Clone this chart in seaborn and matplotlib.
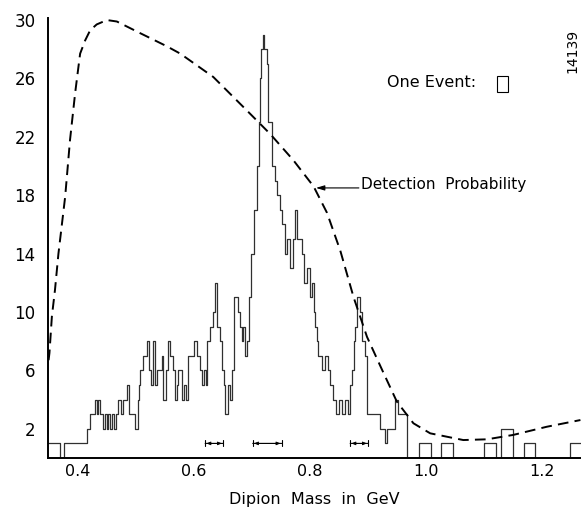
import numpy as np
import pandas as pd
import matplotlib
matplotlib.use("Agg")
import matplotlib.pyplot as plt
from matplotlib.patches import Rectangle
import seaborn as sns

# ideogram outline: step edges in GeV and number of stacked events
edges = [0.348, 0.368, 0.376, 0.416, 0.421, 0.429, 0.432, 0.435, 0.438, 0.443,
         0.446, 0.449, 0.452, 0.455, 0.458, 0.462, 0.466, 0.4695, 0.474, 0.477,
         0.4845, 0.4875, 0.4985, 0.5025, 0.505, 0.507, 0.5126, 0.5184, 0.5224, 0.526,
         0.529, 0.532, 0.536, 0.544, 0.547, 0.551, 0.555, 0.559, 0.563, 0.567,
         0.570, 0.573, 0.5787, 0.582, 0.586, 0.590, 0.599, 0.605, 0.610, 0.614,
         0.617, 0.620, 0.622, 0.6265, 0.633, 0.636, 0.640, 0.645, 0.648, 0.651,
         0.6535, 0.659, 0.662, 0.665, 0.668, 0.676, 0.679, 0.682, 0.685, 0.688,
         0.691, 0.694, 0.698, 0.704, 0.708, 0.711, 0.714, 0.716, 0.7195, 0.7205,
         0.725, 0.728, 0.734, 0.740, 0.743, 0.748, 0.751, 0.756, 0.760, 0.766,
         0.771, 0.774, 0.777, 0.786, 0.790, 0.794, 0.799, 0.803, 0.806, 0.809,
         0.812, 0.814, 0.820, 0.826, 0.830, 0.834, 0.840, 0.845, 0.850, 0.855,
         0.860, 0.866, 0.869, 0.872, 0.875, 0.878, 0.880, 0.886, 0.889, 0.895,
         0.898, 0.921, 0.929, 0.933, 0.947, 0.952, 0.967, 0.987, 1.008, 1.025,
         1.046, 1.099, 1.120, 1.129, 1.149, 1.168, 1.188, 1.248, 1.267]
counts = [1, 0, 1, 2, 3, 4, 3, 4, 3, 2,
          3, 2, 3, 2, 3, 2, 3, 4, 3, 4,
          5, 3, 2, 4, 5, 6, 7, 8, 6, 5,
          8, 5, 6, 7, 4, 6, 8, 7, 6, 4,
          5, 6, 4, 5, 4, 7, 8, 7, 6, 5,
          6, 5, 8, 9, 10, 12, 9, 8, 6, 5,
          3, 5, 4, 6, 11, 10, 9, 8, 9, 7,
          8, 11, 14, 17, 20, 23, 26, 28, 29, 28,
          27, 23, 20, 19, 18, 17, 16, 14, 15, 13,
          15, 17, 15, 14, 12, 13, 11, 12, 10, 9,
          8, 7, 6, 7, 6, 5, 4, 3, 4, 3,
          4, 3, 5, 6, 8, 9, 11, 10, 8, 7,
          3, 2, 1, 2, 4, 3, 0, 1, 0, 1,
          0, 1, 0, 2, 0, 1, 0, 1]

# detection probability curve (drawn on the event scale)
curve_mass = [0.349, 0.3505, 0.3547, 0.360, 0.366, 0.3776, 0.386, 0.3948, 0.4005, 0.4034,
              0.412, 0.4207, 0.432, 0.4495, 0.4667, 0.507, 0.553, 0.576, 0.633, 0.691,
              0.731, 0.771, 0.806, 0.829, 0.852, 0.875, 0.898, 0.921, 0.935, 0.9495,
              0.978, 1.007, 1.064, 1.105, 1.150, 1.208, 1.266]
curve_val = [6.7, 7.2, 9.7, 11.5, 14.0, 17.9, 21.8, 25.0, 26.8, 27.7,
             28.6, 29.3, 29.7, 30.0, 29.9, 29.1, 28.2, 27.7, 26.1, 23.8,
             22.2, 20.4, 18.6, 16.8, 14.2, 11.0, 8.3, 6.3, 5.1, 3.86,
             2.38, 1.69, 1.23, 1.28, 1.58, 2.14, 2.6]

# resolution bars near the bottom
res_lo = [0.619, 0.701, 0.869]
res_hi = [0.650, 0.751, 0.900]

xticks = [0.4, 0.5, 0.6, 0.7, 0.8, 0.9, 1.0, 1.1, 1.2]
xlabels = ["0.4", "", "0.6", "", "0.8", "", "1.0", "", "1.2"]
yticks = list(range(2, 31, 2))
ylabels = [str(t) if (t - 2) % 4 == 0 else "" for t in yticks]

sns.set_style("white")
plt.rcParams["font.family"] = ["DejaVu Sans"]
plt.rcParams["text.color"] = "black"
plt.rcParams["axes.labelcolor"] = "black"
plt.rcParams["xtick.color"] = "black"
plt.rcParams["ytick.color"] = "black"

fig = plt.figure(figsize=(5.81, 5.14), dpi=100)
ax = fig.add_axes([48 / 581, 1 - 458 / 514, 533 / 581, 440 / 514])

centers = [(a + b) / 2 for a, b in zip(edges[:-1], edges[1:])]
df = pd.DataFrame({"mass": centers, "n": counts})
sns.histplot(data=df, x="mass", weights="n", bins=edges, element="step",
             fill=False, color="#303030", linewidth=0.9, ax=ax)

cdf = pd.DataFrame({"mass": curve_mass, "p": curve_val})
sns.lineplot(data=cdf, x="mass", y="p", sort=False, color="black",
             linewidth=1.4, linestyle=(0, (5.5, 3.2)), ax=ax)

for lo, hi in zip(res_lo, res_hi):
    ax.annotate("", xy=(hi, 1.0), xytext=(lo, 1.0),
                arrowprops=dict(arrowstyle="|-|,widthA=0.22,widthB=0.22",
                                lw=0.8, color="black", shrinkA=0, shrinkB=0))
    ax.annotate("", xy=(hi - 0.002, 1.0), xytext=(lo + 0.002, 1.0),
                arrowprops=dict(arrowstyle="<|-|>,head_length=0.25,head_width=0.1",
                                lw=0.6, color="black", shrinkA=0, shrinkB=0))

ax.text(0.933, 25.7, "One Event:", fontsize=11.5, va="center", ha="left")
ax.add_patch(Rectangle((1.122, 25.1), 0.019, 1.1, fill=False, lw=0.8,
                       edgecolor="black"))
ax.text(0.888, 18.75, "Detection  Probability", fontsize=11, va="center", ha="left")
ax.annotate("", xy=(0.810, 18.5), xytext=(0.884, 18.5),
            arrowprops=dict(arrowstyle="-|>,head_length=0.5,head_width=0.15",
                            lw=0.8, color="black", shrinkA=0, shrinkB=0))
ax.text(1.252, 27.9, "14139", fontsize=10, rotation=90, va="center", ha="center")

ax.set_xlim(0.348, 1.267)
ax.set_ylim(0, 30.14)
ax.set_xticks(xticks)
ax.set_xticklabels(xlabels)
ax.set_yticks(yticks)
ax.set_yticklabels(ylabels)
ax.tick_params(axis="x", direction="in", length=8.5, width=1.1, labelsize=11.5, pad=4)
ax.tick_params(axis="y", direction="in", length=7.2, width=1.1, labelsize=12, pad=9)
ax.set_xlabel("Dipion  Mass  in  GeV", fontsize=11.5, labelpad=10)
ax.set_ylabel("")
sns.despine(ax=ax)
for s in ["left", "bottom"]:
    ax.spines[s].set_linewidth(1.4)
    ax.spines[s].set_color("black")

fig.savefig("out.png", dpi=100)
